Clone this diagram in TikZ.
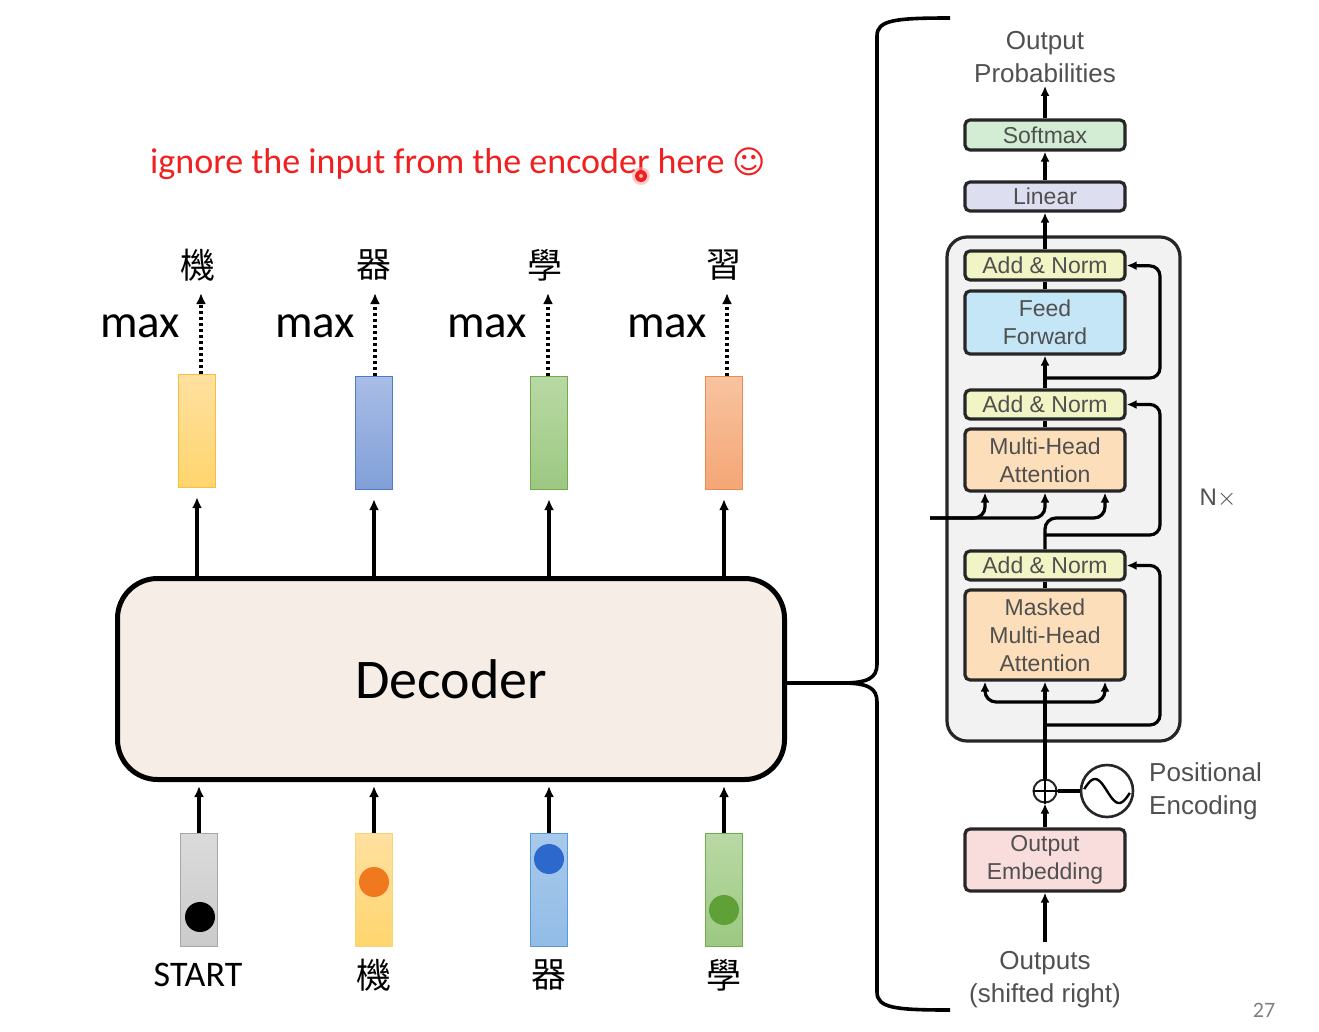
\documentclass[tikz,border=0pt]{standalone}
\usepackage{fontspec}
\setmainfont{Carlito}
\newfontfamily\helv{Liberation Sans}
\newfontfamily\cjk{Noto Sans CJK TC}
\newfontfamily\dejavu{DejaVu Sans}
\usetikzlibrary{arrows.meta,calc}
\definecolor{decfill}{HTML}{F6EEE6}
\definecolor{ylwF}{HTML}{FFD56E}\definecolor{ylwT}{HTML}{FFE0A0}\definecolor{ylwD}{HTML}{F3C040}
\definecolor{bluF}{HTML}{819FD8}\definecolor{bluT}{HTML}{A8BDE6}\definecolor{bluD}{HTML}{4F78C8}
\definecolor{grnF}{HTML}{9CC882}\definecolor{grnT}{HTML}{B9D9A4}\definecolor{grnD}{HTML}{73AA50}
\definecolor{orgF}{HTML}{F4A675}\definecolor{orgT}{HTML}{F8C3A0}\definecolor{orgD}{HTML}{EC8A50}
\definecolor{gryF}{HTML}{CBCBCB}\definecolor{gryT}{HTML}{DADADA}\definecolor{gryD}{HTML}{A6A6A6}
\definecolor{lbF}{HTML}{92BCE6}\definecolor{lbT}{HTML}{A8C9EC}\definecolor{lbD}{HTML}{5B9BD5}
\definecolor{redtxt}{RGB}{240,32,32}
\definecolor{smF}{HTML}{D3EDD5}
\definecolor{linF}{HTML}{DDDFF1}
\definecolor{anF}{HTML}{F1F4C4}
\definecolor{ffF}{HTML}{C4E6F6}
\definecolor{mhF}{HTML}{FCDFBA}
\definecolor{embF}{HTML}{F9DCDC}
\definecolor{nxF}{HTML}{F2F2F2}
\definecolor{rtxt}{HTML}{505050}
\tikzset{
  vec/.style={draw, line width=1.2pt, minimum width=37, minimum height=113, inner sep=0},
  arr/.style={line width=3.4pt, -{Latex[length=11pt,width=10pt]}},
  dotarr/.style={line width=3.2pt, dash pattern=on 3pt off 3pt, -{Latex[length=11pt,width=10pt]}},
  rbox/.style={draw=black!85, line width=3.2pt, rounded corners=5pt, minimum width=160, inner sep=0, align=center, text=rtxt, font=\helv\fontsize{23}{28}\selectfont},
  rarr/.style={line width=3.2pt, -{Latex[length=10pt,width=9pt]}},
  rline/.style={line width=3.2pt},
  rtext/.style={text=rtxt, font=\helv\fontsize{26}{33}\selectfont, align=center, inner sep=0},
  cjkl/.style={font=\cjk\fontsize{35}{35}\selectfont, inner sep=0},
  dot/.style={circle, inner sep=0, minimum size=30},
}
\begin{document}
\begin{tikzpicture}[x=1pt,y=-1pt]
\useasboundingbox (0,0) rectangle (1319,1031);
% title
\node[text=redtxt, font=\fontsize{36}{36}\selectfont, anchor=west, inner sep=0] (title) at (150,164) {ignore the input from the encoder here {\dejavu\fontsize{32}{32}\selectfont ☺}};
\fill[red!40, opacity=0.5] (641,176) circle (9);
\fill[redtxt] (641,176) circle (6);
\fill[red!30] (641,176) circle (2);
% decoder
\node[draw, line width=5pt, rounded corners=40pt, fill=decfill, minimum width=667, minimum height=201, font=\fontsize{56}{56}\selectfont] (dec) at (451,679) {Decoder};
% output vectors
\node[vec, draw=ylwD, top color=ylwT, bottom color=ylwF] (o1) at (197,431) {};
\node[vec, draw=bluD, top color=bluT, bottom color=bluF] (o2) at (374,433) {};
\node[vec, draw=grnD, top color=grnT, bottom color=grnF] (o3) at (549,433) {};
\node[vec, draw=orgD, top color=orgT, bottom color=orgF] (o4) at (724,433) {};
% output characters
\node[cjkl] (c1) at (198,265) {機};
\node[cjkl] (c2) at (374,265) {器};
\node[cjkl] (c3) at (545,265) {學};
\node[cjkl] (c4) at (724,265) {習};
\coordinate (t1) at (201,293);\coordinate (t2) at (375,293);\coordinate (t3) at (548,293);\coordinate (t4) at (727,293);
\foreach \i in {1,...,4}{ \draw[dotarr] (o\i.north -| t\i) -- (t\i); }
\foreach \x/\n in {140/1,315/2,487/3,667/4}{ \node[font=\fontsize{47}{47}\selectfont, inner sep=0] (m\n) at (\x,326) {max}; }
\foreach \i in {1,...,4}{ \draw[arr, shorten >=9pt] (dec.north -| o\i) -- (o\i.south); }
% input vectors
\node[vec, draw=gryD, top color=gryT, bottom color=gryF] (i1) at (199,890) {};
\node[vec, draw=ylwD!70, top color=ylwT, bottom color=ylwF] (i2) at (374,890) {};
\node[vec, draw=lbD, top color=lbT, bottom color=lbF] (i3) at (549,890) {};
\node[vec, draw=grnD, top color=grnT, bottom color=grnF] (i4) at (724,890) {};
\node[dot, fill=black] (d1) at (200,917) {};
\node[dot, fill={rgb,255:red,240;green,120;blue,30}] (d2) at (374,882) {};
\node[dot, fill={rgb,255:red,45;green,105;blue,205}] (d3) at (549,859) {};
\node[dot, fill={rgb,255:red,95;green,160;blue,55}] (d4) at (724,910) {};
\foreach \i in {1,...,4}{ \draw[arr, shorten >=4pt] (i\i.north) -- (i\i.north |- dec.south); }
\node[font=\fontsize{36}{36}\selectfont, inner sep=0] (l1) at (198,975) {START};
\node[cjkl] (l2) at (374,975) {機};
\node[cjkl] (l3) at (549,975) {器};
\node[cjkl] (l4) at (724,975) {學};
% brace
\coordinate (tip) at (842,683);
\draw[line width=3.6pt] (dec.east |- tip) -- (tip);
\draw[line width=3.6pt] (tip) .. controls (868,683) and (877,678) .. (877,664) -- (877,36) .. controls (877,20) and (895,18) .. (950,18);
\draw[line width=3.6pt] (tip) .. controls (868,683) and (877,688) .. (877,702) -- (877,992) .. controls (877,1008) and (895,1010) .. (950,1010);
% transformer decoder block
\node[draw=black!85, line width=3.2pt, rounded corners=20pt, fill=nxF, minimum width=233, minimum height=504, inner sep=0] (nx) at (1063.5,489) {};
\node[rtext] (op) at (1045,57) {Output\\Probabilities};
\node[rbox, fill=smF, minimum height=30] (soft) at (1045,135) {Softmax};
\node[rbox, fill=linF, minimum height=29] (lin) at (1045,196.5) {Linear};
\node[rbox, fill=anF, minimum height=29] (an1) at (1045,265.5) {Add \& Norm};
\node[rbox, fill=ffF, minimum height=63] (ff) at (1045,322.5) {Feed\\Forward};
\node[rbox, fill=anF, minimum height=29] (an2) at (1045,404.5) {Add \& Norm};
\node[rbox, fill=mhF, minimum height=62] (mha) at (1045,460) {Multi-Head\\Attention};
\node[rbox, fill=anF, minimum height=29] (an3) at (1045,565.5) {Add \& Norm};
\node[rbox, fill=mhF, minimum height=90] (mmha) at (1045,635) {Masked\\Multi-Head\\Attention};
\node[circle, draw=black!85, line width=2pt, minimum size=23, inner sep=0] (plus) at (1045,791) {};
\draw[line width=1.6pt] (plus.north) -- (plus.south) (plus.west) -- (plus.east);
\node[circle, draw=black!85, line width=2.6pt, minimum size=52, inner sep=0] (pe) at (1107,791) {};
\draw[line width=2.4pt] plot[domain=-0.95:0.95, samples=40, smooth] ({1107+24*\x},{791+12*sin(180*\x)});
\node[rtext, align=left, anchor=west] (pel) at (1149,791) {Positional\\Encoding};
\node[rbox, fill=embF, minimum height=62] (emb) at (1045,860) {Output\\Embedding};
\node[rtext] (outs) at (1045,980) {Outputs\\(shifted right)};
\node[text=rtxt, font=\helv\fontsize{24}{24}\selectfont, inner sep=0] (nxl) at (1218,498) {N$\times$};
\node[text=gray, font=\fontsize{22}{22}\selectfont, inner sep=0] (pg) at (1264,1010) {27};
% connectors (right)
\draw[rarr, shorten >=3pt] (soft.north) -- (op.south);
\draw[rarr] (lin.north) -- (soft.south);
\draw[rarr] (an1.north) -- (lin.south);
\draw[rline] (ff.north) -- (an1.south);
\draw[rarr] (an2.north) -- (ff.south);
\draw[rarr, rounded corners=10pt] (1045,378) -- (1160,378) -- (1160,266) -- (an1.east);
\draw[rline] (mha.north) -- (an2.south);
\coordinate (enc) at (930,518);
\draw[rarr, rounded corners=11pt] (enc) -- (985,518) -- ([xshift=-60]mha.south);
\draw[rarr, rounded corners=11pt] (enc) -- (1045,518) -- (mha.south);
\draw[rarr, rounded corners=11pt] (an3.north) -- (1045,518) -- (1105,518) -- ([xshift=60]mha.south);
\draw[rarr, rounded corners=10pt] (1045,535) -- (1160,535) -- (1160,404.5) -- (an2.east);
\draw[rline] (mmha.north) -- (an3.south);
\draw[rarr] (plus.north) -- (mmha.south);
\draw[rarr, rounded corners=11pt] (1045,702) -- (985,702) -- ([xshift=-60]mmha.south);
\draw[rarr, rounded corners=11pt] (1045,702) -- (1105,702) -- ([xshift=60]mmha.south);
\draw[rarr, rounded corners=10pt] (1045,725) -- (1160,725) -- (1160,565.5) -- (an3.east);
\draw[rline] (plus.east) -- (pe.west);
\draw[rarr] (emb.north) -- (plus.south);
\draw[rarr, shorten <=10pt] (outs.north) -- (emb.south);
\end{tikzpicture}
\end{document}
